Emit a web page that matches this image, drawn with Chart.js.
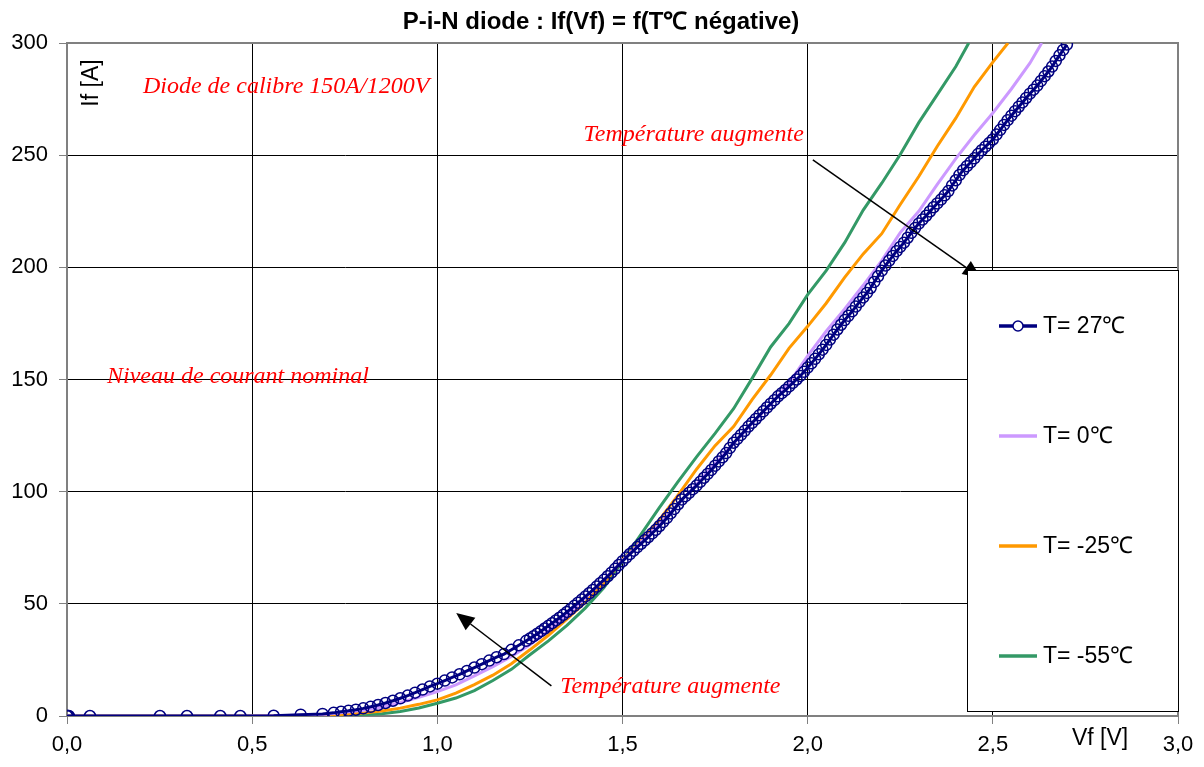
<!DOCTYPE html>
<html>
<head>
<meta charset="utf-8">
<script src="https://cdn.jsdelivr.net/npm/chart.js@4"></script>
<style>
  body { margin: 0; background: #fff; }
  #canvas { display: block; }
</style>
</head>
<body>
<canvas id="canvas" width="1204" height="767"></canvas>
<script>
var canvas = document.getElementById("canvas");
var ctx = canvas.getContext("2d");

// T = 27 °C (markers)
var vT27 = [0.0, 0.003, 0.005, 0.062, 0.251, 0.324, 0.414, 0.468, 0.558, 0.631, 0.69, 0.72,
  0.74, 0.76, 0.78, 0.80, 0.82, 0.84, 0.86, 0.88, 0.90, 0.92, 0.94, 0.96, 0.98,
  1.00, 1.02, 1.04, 1.06, 1.08, 1.10, 1.12, 1.14, 1.16, 1.18, 1.20, 1.22,
  1.24, 1.25, 1.26, 1.27, 1.28, 1.29, 1.30, 1.31, 1.32, 1.33, 1.34, 1.35, 1.36, 1.37, 1.38, 1.39,
  1.40, 1.41, 1.42, 1.43, 1.44, 1.45, 1.46, 1.47, 1.48, 1.49, 1.50, 1.51, 1.52, 1.53, 1.54, 1.55,
  1.56, 1.57, 1.58, 1.59, 1.60, 1.61, 1.62, 1.63, 1.64, 1.65, 1.66, 1.67, 1.68, 1.69, 1.70, 1.71,
  1.72, 1.73, 1.74, 1.75, 1.76, 1.77, 1.78, 1.79, 1.80, 1.81, 1.82, 1.83, 1.84, 1.85, 1.86, 1.87,
  1.88, 1.89, 1.90, 1.91, 1.92, 1.93, 1.94, 1.95, 1.96, 1.97, 1.98, 1.99, 2.00, 2.01, 2.02, 2.03,
  2.04, 2.05, 2.06, 2.07, 2.08, 2.09, 2.10, 2.11, 2.12, 2.13, 2.14, 2.15, 2.16, 2.17, 2.18, 2.19,
  2.20, 2.21, 2.22, 2.23, 2.24, 2.25, 2.26, 2.27, 2.28, 2.29, 2.30, 2.31, 2.32, 2.33, 2.34, 2.35,
  2.36, 2.37, 2.38, 2.39, 2.40, 2.41, 2.42, 2.43, 2.44, 2.45, 2.46, 2.47, 2.48, 2.49, 2.50, 2.51,
  2.52, 2.53, 2.54, 2.55, 2.56, 2.57, 2.58, 2.59, 2.60, 2.61, 2.62, 2.63, 2.64, 2.65, 2.66, 2.67,
  2.68, 2.69, 2.70];
var iT27 = [0, 0, 0, 0, 0, 0, 0, 0, 0.1, 0.6, 0.9, 1.4,
  1.9, 2.3, 2.8, 3.4, 4.1, 4.9, 5.8, 6.8, 7.9, 9.1, 10.4, 11.8, 13.2,
  14.4, 15.8, 17.2, 18.6, 20.1, 21.6, 23.1, 24.7, 26.2, 27.6, 29.5, 31.5,
  33.5, 34.5, 35.6, 36.7, 37.8, 39.0, 40.2, 41.4, 42.6, 43.8, 45.1, 46.4, 47.7, 49.1, 50.5, 51.9,
  53.3, 54.7, 56.2, 57.7, 59.2, 60.7, 62.3, 63.9, 65.6, 67.3, 69.0, 70.6, 72.2, 73.7, 75.3, 76.8,
  78.3, 79.8, 81.4, 83.0, 84.7, 86.5, 88.3, 90.3, 92.3, 94.4, 96.5, 98.0, 99.5, 101.1, 102.7, 104.4,
  106.2, 107.9, 109.7, 111.6, 113.5, 115.3, 117.2, 119.5, 121.8, 123.5, 125.3, 127.1, 129.0, 130.7, 132.4, 134.1,
  135.8, 137.5, 139.2, 140.8, 142.5, 143.9, 145.3, 146.9, 148.5, 150.0, 151.6, 153.4, 155.3, 157.2, 159.2, 161.2,
  163.3, 165.4, 167.8, 170.0, 172.3, 174.4, 176.5, 178.4, 180.4, 182.5, 184.6, 186.6, 188.6, 190.8, 193.5, 196.0,
  198.5, 200.8, 203.0, 205.1, 207.2, 209.1, 211.0, 213.2, 215.4, 217.5, 219.5, 221.3, 223.0, 224.9, 226.8, 228.5,
  230.2, 232.1, 234.0, 236.5, 238.8, 241.2, 243.3, 245.1, 246.8, 248.6, 250.5, 252.2, 253.8, 255.4, 257.0, 259.2,
  261.3, 263.5, 265.6, 267.6, 269.6, 271.6, 273.5, 275.5, 277.4, 279.2, 281.0, 283.1, 285.2, 287.3, 289.5, 292.0,
  294.5, 296.9, 299.3];

// T = 0 °C
var vT0 = [0.0, 0.5, 0.6, 0.7, 0.8, 0.85, 0.9, 0.95, 1.0, 1.05, 1.1, 1.15, 1.2, 1.25, 1.3, 1.35,
  1.4, 1.45, 1.5, 1.55, 1.6, 1.65, 1.7, 1.75, 1.8, 1.85, 1.9, 1.95, 2.0, 2.05, 2.1, 2.15,
  2.2, 2.25, 2.3, 2.35, 2.4, 2.45, 2.5, 2.55, 2.6, 2.632];
var iT0 = [0, 0, 0.2, 0.8, 2.6, 4.0, 6.0, 8.3, 10.9, 13.9, 17.9, 22.0, 26.5, 31.8, 38.0, 45.0,
  52.8, 60.8, 69.3, 77.5, 85.5, 94.5, 103.3, 112.5, 121.5, 130.5, 139.0, 148.5, 160.5, 171.5, 181.5, 192.0,
  203.0, 215.5, 225.0, 237.0, 248.5, 259.0, 268.8, 279.5, 291.0, 300];

// T = -25 °C
var vTm25 = [0.0, 0.5, 0.7, 0.8, 0.85, 0.9, 0.95, 1.0, 1.05, 1.1, 1.15, 1.2, 1.25, 1.3, 1.35,
  1.4, 1.45, 1.5, 1.55, 1.6, 1.65, 1.7, 1.75, 1.8, 1.85, 1.9, 1.95, 2.0, 2.05, 2.1, 2.15,
  2.2, 2.25, 2.3, 2.35, 2.4, 2.45, 2.5, 2.541];
var iTm25 = [0, 0, 0.3, 1.3, 2.2, 3.5, 5.2, 7.2, 10.2, 14.0, 18.2, 23.3, 29.5, 36.0, 43.2,
  50.7, 59.3, 69.5, 78.0, 87.5, 98.5, 110.0, 120.5, 129.0, 141.0, 152.0, 164.0, 173.7, 184.0, 195.5, 206.0,
  215.0, 228.0, 240.5, 254.0, 266.5, 280.5, 291.5, 300];

// T = -55 °C
var vTm55 = [0.0, 0.6, 0.75, 0.8, 0.85, 0.9, 0.95, 1.0, 1.05, 1.1, 1.15, 1.2, 1.25, 1.3, 1.35,
  1.4, 1.45, 1.5, 1.55, 1.6, 1.65, 1.7, 1.75, 1.8, 1.85, 1.9, 1.95, 2.0, 2.05, 2.1, 2.15,
  2.2, 2.25, 2.3, 2.35, 2.4, 2.435];
var iTm55 = [0, 0, 0.3, 0.6, 1.0, 2.0, 3.6, 5.7, 8.0, 11.3, 15.8, 20.8, 27.3, 33.5, 40.4,
  48.2, 57.3, 69.0, 81.0, 93.0, 104.5, 115.5, 126.0, 137.0, 150.5, 164.5, 175.0, 187.8, 198.5, 211.0, 225.5,
  237.5, 250.3, 264.5, 277.0, 289.5, 300];

var seriesLabels = ["T= 27℃", "T= 0℃", "T= -25℃", "T= -55℃"];
var seriesColors = ["#000080", "#cc99ff", "#ff9900", "#339966"];

var titleText = "P-i-N diode : If(Vf) = f(T℃ négative)";
var xTitle = "Vf [V]";
var yTitle = "If [A]";

// text notes [text, V, I] (left edge, middle)
var notes = [
  ["Diode de calibre 150A/1200V", 0.205, 280.4],
  ["Température augmente", 1.395, 259.0],
  ["Niveau de courant nominal", 0.108, 151.1],
  ["Température augmente", 1.332, 12.9]
];
// arrows [V1, I1, V2, I2] tail -> head
var arrows = [
  [2.014, 247.9, 2.468, 195.3],
  [1.308, 13.4, 1.051, 45.9]
];

function pts(xs, ys) {
  let out = [];
  for (let i = 0; i < xs.length; i++) out.push({x: xs[i], y: ys[i]});
  return out;
}

var extras = {
  id: "extras",
  beforeDatasetsDraw(chart) {
    let a = chart.chartArea, c = chart.ctx;
    c.save();
    c.strokeStyle = "#808080";
    c.lineWidth = 2;
    c.beginPath();
    c.moveTo(a.left, a.top); c.lineTo(a.right, a.top); c.lineTo(a.right, a.bottom);
    c.stroke();
    c.restore();
  },
  afterDatasetsDraw(chart) {
    let c = chart.ctx, xs = chart.scales.x, ys = chart.scales.y;
    c.save();
    // title
    c.fillStyle = "#000";
    c.font = "bold 24px 'Liberation Sans', Arial, sans-serif";
    c.textAlign = "center"; c.textBaseline = "middle";
    c.fillText(titleText, 601, 22);
    // axis titles
    c.font = "23px 'Liberation Sans', Arial, sans-serif";
    c.fillText(xTitle, 1100, 739);
    c.save();
    c.translate(92, 83);
    c.rotate(-Math.PI / 2);
    c.fillText(yTitle, 0, 0);
    c.restore();
    // notes
    c.fillStyle = "#ff0000";
    c.font = "italic 24px 'Liberation Serif', 'Times New Roman', serif";
    c.textAlign = "left";
    notes.forEach(n => c.fillText(n[0], xs.getPixelForValue(n[1]), ys.getPixelForValue(n[2])));
    // arrows
    c.strokeStyle = "#000"; c.fillStyle = "#000"; c.lineWidth = 1.5;
    arrows.forEach(r => {
      let x1 = xs.getPixelForValue(r[0]), y1 = ys.getPixelForValue(r[1]);
      let x2 = xs.getPixelForValue(r[2]), y2 = ys.getPixelForValue(r[3]);
      let ang = Math.atan2(y2 - y1, x2 - x1), L = 18, W = 8;
      let bx = x2 - L * Math.cos(ang), by = y2 - L * Math.sin(ang);
      c.beginPath(); c.moveTo(x1, y1); c.lineTo(bx, by); c.stroke();
      c.beginPath();
      c.moveTo(x2, y2);
      c.lineTo(bx + W * Math.sin(ang), by - W * Math.cos(ang));
      c.lineTo(bx - W * Math.sin(ang), by + W * Math.cos(ang));
      c.closePath(); c.fill();
    });
    // legend box
    let lx = 967, ly = 270, lw = 211, lh = 441;
    c.fillStyle = "#fff";
    c.fillRect(lx, ly, lw, lh);
    c.strokeStyle = "#000"; c.lineWidth = 1;
    c.strokeRect(lx + 0.5, ly + 0.5, lw, lh);
    c.font = "23px 'Liberation Sans', Arial, sans-serif";
    c.textBaseline = "middle";
    chart.data.datasets.forEach((ds, k) => {
      let y = 326 + k * 110;
      c.strokeStyle = ds.borderColor; c.lineWidth = 3.5;
      c.beginPath(); c.moveTo(999, y); c.lineTo(1037, y); c.stroke();
      if (ds.pointRadius > 0) {
        c.lineWidth = 1.5; c.fillStyle = "#fff";
        c.beginPath(); c.arc(1018, y, 5, 0, Math.PI * 2); c.fill(); c.stroke();
      }
      c.fillStyle = "#000";
      c.fillText(ds.label, 1043, y + 1);
    });
    c.restore();
  }
};

var chart = new Chart(ctx, {
  type: "line",
  data: {
    datasets: [
      {label: seriesLabels[0], data: pts(vT27, iT27), borderColor: seriesColors[0], borderWidth: 3,
        pointRadius: 5.5, pointBorderWidth: 1.5, pointBackgroundColor: "rgba(0,0,0,0)", pointBorderColor: seriesColors[0]},
      {label: seriesLabels[1], data: pts(vT0, iT0), borderColor: seriesColors[1], borderWidth: 3, pointRadius: 0},
      {label: seriesLabels[2], data: pts(vTm25, iTm25), borderColor: seriesColors[2], borderWidth: 3, pointRadius: 0},
      {label: seriesLabels[3], data: pts(vTm55, iTm55), borderColor: seriesColors[3], borderWidth: 3, pointRadius: 0}
    ]
  },
  options: {
    responsive: false,
    animation: false,
    layout: {padding: {top: 43, right: 26, left: 0, bottom: 0}},
    plugins: {legend: {display: false}, title: {display: false}, tooltip: {enabled: false}},
    scales: {
      x: {
        type: "linear", min: 0, max: 3,
        afterFit: s => { s.height = 51; },
        ticks: {stepSize: 0.5, padding: 8, color: "#000",
          font: {family: "'Liberation Sans', Arial", size: 22},
          callback: v => v.toFixed(1).replace(".", ",")},
        grid: {color: "#000", lineWidth: 1, tickLength: 8, tickColor: "#808080"},
        border: {color: "#808080", width: 2}
      },
      y: {
        min: 0, max: 300,
        afterFit: s => { s.width = 67; },
        ticks: {stepSize: 50, padding: 11, color: "#000",
          font: {family: "'Liberation Sans', Arial", size: 22}},
        grid: {color: "#000", lineWidth: 1, tickLength: 8, tickColor: "#808080"},
        border: {color: "#808080", width: 2}
      }
    }
  },
  plugins: [extras]
});
</script>
</body>
</html>
